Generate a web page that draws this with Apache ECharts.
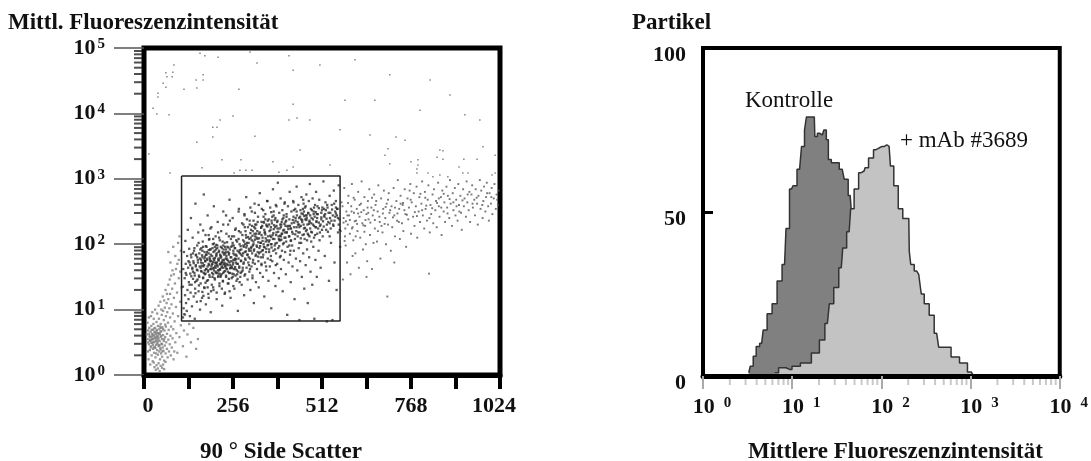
<!DOCTYPE html>
<html>
<head>
<meta charset="utf-8">
<script src="https://cdn.jsdelivr.net/npm/echarts@6/dist/echarts.min.js"></script>
<style>html,body{margin:0;background:#fff}#main{width:1091px;height:461px}</style>
</head>
<body>
<div id="main"></div>
<script>
// scatter points: [side scatter channel, log10 of fluorescence]
var sparsePoints = [[161,4.92],[175,4.88],[213,4.86],[305,4.94],[325,4.77],[417,4.88],[429,4.66],[86,4.74],[83,4.63],[63,4.62],[81,4.56],[66,4.56],[55,4.46],[63,4.40],[40,4.31],[40,4.25],[26,4.08],[37,3.99],[72,3.98],[115,4.37],[152,4.39],[150,4.51],[170,4.59],[170,4.51],[273,4.37],[256,3.96],[429,4.14],[440,3.93],[417,3.90],[219,3.90],[198,3.79],[210,3.79],[198,3.64],[152,3.56],[319,3.65],[14,3.38],[224,3.29],[279,3.29],[167,3.17],[75,3.09],[259,3.09],[276,3.13],[293,3.13],[311,3.13],[371,3.26],[388,3.10],[411,3.13],[429,3.18],[506,4.74],[578,4.20],[564,3.75],[650,3.67],[607,4.82],[707,4.59],[794,4.05],[880,4.28],[966,3.90],[751,3.59],[535,3.21],[449,3.44],[851,3.44],[923,3.98],[823,4.51],[477,3.90],[664,4.20],[725,3.64],[702,3.46],[693,3.36],[707,3.23],[860,3.43],[860,3.30],[843,3.33],[975,3.49],[1010,3.36],[958,3.30],[920,3.30],[906,3.18],[788,3.29],[768,3.26],[788,3.21],[785,3.15],[785,3.09],[817,3.09],[831,3.03],[851,3.06],[874,3.03],[917,3.09],[932,3.09],[1001,3.06],[1010,3.09]];

var lowCluster = [[8,.62],[10,.55],[12,.68],[14,.47],[15,.72],[16,.60],[17,.38],[18,.52],[19,.66],[20,.44],[21,.75],[22,.58],[22,.30],[23,.63],[24,.49],[25,.69],[26,.40],[26,.55],[27,.78],[28,.61],[29,.34],[30,.50],[30,.66],[31,.43],[32,.72],[33,.57],[33,.27],[34,.63],[35,.46],[36,.81],[36,.54],[37,.69],[38,.38],[38,.60],[39,.50],[40,.75],[40,.31],[41,.64],[42,.44],[42,.56],[43,.86],[44,.70],[44,.36],[45,.52],[46,.62],[46,.24],[47,.41],[48,.78],[48,.58],[49,.33],[50,.48],[50,.67],[51,.92],[52,.55],[52,.28],[53,.73],[54,.42],[55,.61],[55,.98],[56,.37],[57,.84],[57,.52],[58,.22],[59,.68],[60,.45],[60,1.03],[61,.58],[62,.33],[63,.90],[63,.74],[64,.50],[65,1.10],[66,.40],[66,.63],[67,.96],[68,.27],[69,.80],[70,.54],[70,1.16],[71,.69],[72,.36],[73,1.02],[74,.47],[75,.88],[75,1.24],[76,.60],[77,.30],[78,.74],[79,1.08],[80,.42],[81,1.32],[82,.56],[83,.94],[84,.70],[85,.24],[86,1.18],[87,.36],[88,.82],[89,1.40],[90,.50],[92,1.04],[93,.64],[95,1.26],[96,.34],[98,.90],[100,1.48],[102,.58],[104,1.12],[106,.76],[108,1.34],[112,.44],[115,.68],[118,.92],[122,.28],[125,.62],[130,.78],[135,.50],[142,.72],[150,.40],[155,.55],[30,.12],[34,.08],[36,.15],[40,.10],[42,.18],[45,.06],[48,.14],[52,.11],[55,.16],[28,.19],[25,.21],[58,.09],[62,.20],[11,.36],[13,.24],[18,.16],[10,.80],[14,.88],[20,.90],[24,.96],[28,.86],[32,1.00],[38,.94],[42,1.06],[47,1.12],[50,1.00],[54,1.20],[58,1.14],[62,1.30],[66,1.24],[70,1.38],[74,1.46],[78,1.52],[82,1.60],[86,1.54],[92,1.62],[96,1.70],[100,1.76],[104,1.58],[90,1.82],[76,1.72],[106,1.90],[98,2.02],[84,1.96],[102,2.12],[70,1.88],
[37,.57],[21,.49],[44,.63],[29,.71],[17,.58],[52,.47],[33,.41],[25,.62],[41,.53],[12,.50],[36,.67],[48,.39],[23,.55],[31,.59],[46,.74],[19,.42],[39,.64],[27,.51],[55,.70],[14,.63],[43,.46],[35,.33],[50,.60],[22,.69],[30,.56],[58,.55],[26,.46],[47,.66],[34,.52],[16,.54],[61,.77],[40,.59],[28,.42],[53,.36],[24,.60],[45,.45],[32,.65],[20,.53],[38,.48],[49,.72]];

// densest part of the cloud inside the gate
var coreCloud = [
[143,1.71],[227,1.43],[181,1.88],[262,1.65],[158,1.37],[204,1.79],[239,2.03],[172,1.56],[218,1.69],[276,1.91],[149,1.83],[193,1.28],[251,1.74],[211,1.94],[166,1.67],[233,1.59],[187,2.07],[269,1.47],[222,1.81],[136,1.51],
[198,1.63],[245,1.86],[176,1.74],[214,1.52],[258,1.98],[152,1.61],[207,1.71],[281,1.58],[229,1.92],[184,1.45],[241,1.68],[168,1.90],[201,2.01],[265,1.77],[219,1.61],[147,1.42],[190,1.77],[254,1.55],[235,1.78],[174,1.33],
[209,1.86],[272,2.08],[196,1.56],[225,1.73],[161,1.78],[248,1.63],[183,1.66],[216,2.10],[260,1.84],[139,1.64],[203,1.48],[238,1.70],[178,1.97],[223,1.54],[267,1.60],[155,1.72],[212,1.66],[192,1.84],[243,1.95],[170,1.49],
[231,1.84],[206,1.58],[279,1.75],[186,1.70],[256,1.69],[221,1.96],[164,1.59],[200,1.88],[236,1.50],[273,1.88],[179,1.62],[215,1.75],[249,1.80],[145,1.94],[194,1.66],[228,1.64],[263,1.52],[208,1.99],[175,1.81],[241,1.58],
[188,1.53],[220,1.79],[253,2.12],[199,1.73],[234,1.67],[159,1.50],[270,1.70],[213,1.60],[182,1.76],[246,1.72],[226,1.88],[205,1.67],[167,1.83],[258,1.62],[191,1.92],[237,1.82],[217,1.55],[278,1.97],[173,1.68],[230,1.76],
[202,1.76],[244,1.47],[185,1.60],[224,1.66],[266,1.82],[153,1.80],[210,1.72],[197,1.50],[252,1.66],[232,1.70],[177,1.55],[219,1.84],[261,1.94],[141,1.58],[206,1.64],[240,1.76],[189,1.80],[274,1.64],[228,1.56],[169,1.71],
[214,1.78],[195,1.69],[247,1.56],[223,1.72],[257,1.76],[180,1.84],[236,1.63],[208,1.82],[163,1.64],[268,1.54],[218,1.62],[201,1.60],[242,1.88],[186,1.91],[229,1.69],[255,1.50],[211,1.56],[174,1.78],[264,1.72],[234,1.86],
[296,2.02],[348,2.18],[322,1.84],[404,2.31],[287,1.72],[365,2.26],[331,2.09],[389,1.97],[308,2.22],[352,1.93],[418,2.12],[293,1.89],[376,2.37],[340,2.28],[313,1.98],[397,2.16],[283,2.14],[359,2.04],[327,2.34],[410,2.42],
[301,1.80],[384,2.24],[344,2.00],[318,2.16],[371,2.08],[290,2.26],[402,2.02],[335,1.88],[356,2.36],[310,2.06],[392,2.30],[426,2.19],[299,2.11],[367,1.95],[325,1.96],[413,2.27],[346,2.22],[285,1.86],[380,2.14],[316,1.90],
[398,2.38],[338,2.14],[361,2.20],[304,2.30],[422,2.05],[329,2.03],[374,2.29],[294,1.95],[407,2.10],[350,2.09],[320,2.24],[386,2.19],[288,2.04],[342,1.91],[369,2.42],[312,2.13],[395,2.07],[432,2.33],[333,2.18],[357,1.99],
[302,1.93],[378,2.01],[324,2.10],[415,2.23],[345,2.33],[292,2.20],[363,2.13],[400,2.21],[315,2.00],[337,2.25],[383,2.34],[306,2.17],[354,2.06],[428,2.37],[328,1.81],[372,2.17],[298,1.84],[391,2.13],[341,2.05],[409,2.36],
[286,1.98],[360,2.30],[319,2.07],[377,1.92],[349,2.15],[311,2.28],[420,2.28],[334,1.97],[394,2.26],[303,2.08],[366,2.11],[326,2.20],[388,2.08],[347,1.95],[291,1.78],[405,2.18],[373,2.23],[317,2.26],[355,2.27],[435,2.15],
[442,2.34],[498,2.40],[468,2.22],[531,2.48],[451,2.09],[517,2.27],[483,2.52],[548,2.36],[461,2.43],[506,2.18],[439,2.50],[525,2.39],[474,2.31],[556,2.54],[492,2.14],[447,2.26],[513,2.56],[537,2.24],[465,2.58],[486,2.38],
[455,2.37],[503,2.33],[543,2.44],[471,2.16],[521,2.46],[444,2.18],[494,2.49],[560,2.30],[459,2.30],[510,2.41],[478,2.44],[534,2.32],[449,2.42],[501,2.24],[552,2.47],[467,2.37],[489,2.28],[527,2.60],[457,2.54],[515,2.35],
[481,2.19],[541,2.53],[463,2.25],[496,2.35],[529,2.19],[453,2.47],[508,2.30],[473,2.47],[558,2.40],[446,2.30],[519,2.42],[488,2.46],[545,2.28],[469,2.06],[503,2.55],[535,2.40],[460,2.15],[512,2.22],[476,2.34],[550,2.50],
[148,1.25],[171,1.21],[199,1.34],[224,1.32],[186,1.18],[243,1.40],[209,1.26],[163,1.13],[257,1.36],[232,1.24],[177,1.41],[289,1.52],[305,1.62],[338,1.70],[364,1.76],[312,1.48],[351,1.66],[393,1.82],[421,1.90],[379,1.68],
[262,2.22],[228,2.30],[191,2.24],[247,2.36],[289,2.46],[213,2.18],[170,2.21],[306,2.56],[272,2.50],[330,2.60],[355,2.66],[236,2.44],[381,2.58],[319,2.48],[404,2.62],[296,2.38],[343,2.52],[430,2.64],[366,2.49],[458,2.68],
[154,1.46],[183,1.34],[128,1.74],[217,1.40],[246,1.28],[275,1.42],[168,1.27],[197,1.94],[131,1.38],[226,2.04],[255,2.02],[284,1.64],[313,1.72],[342,1.80],[157,2.02],[186,2.14],[215,1.88],[244,2.12],[273,2.20],[302,1.68],
[331,1.86],[360,1.88],[389,2.06],[418,1.98],[447,2.02],[476,2.12],[505,2.06],[534,2.12],[563,2.22],[141,1.86],[170,1.96],[199,2.08],[228,1.98],[257,1.90],[286,2.30],[315,2.36],[344,2.42],[373,2.50],[402,2.44],[431,2.52],
[460,2.50],[489,2.56],[518,2.54],[547,2.62],[133,1.68],[162,1.92],[191,1.62],[220,1.50],[249,1.64],[278,1.56],[307,1.90],[336,2.02],[365,2.00],[394,2.12],[423,2.24],[452,2.38],[481,2.32],[510,2.48],[539,2.36],[120,1.56],
[149,1.66],[178,1.84],[207,1.92],[236,1.92],[265,2.06],[294,2.10],[323,2.16],[352,2.30],[381,2.28],[410,2.18],[439,2.26],[468,2.40],[497,2.46],[526,2.30],[555,2.44],[146,1.52],[175,1.60],[204,1.96],[233,1.96],[262,1.78],
[291,2.00],[320,2.30],[349,2.38],[378,2.40],[407,2.28],[436,2.40],[465,2.44],[494,2.26],[523,2.52],[552,2.56],[135,1.84],[164,1.76],[193,1.74],[222,1.70],[251,1.96],[280,1.84],[309,1.96],[338,2.34],[367,2.36],[396,2.34]];

var mainCloud = [
[112,.88],[112,1.35],[113,1.62],[114,1.02],[115,1.88],[116,.93],[117,1.48],[118,1.22],[119,2.05],[120,1.70],[121,1.10],[122,1.53],[123,.98],[124,1.82],[125,1.30],[126,2.22],[127,1.64],[128,1.16],[129,1.42],[130,1.93],[131,1.72],[132,.90],[133,1.55],[134,1.26],[135,2.40],[136,1.80],[137,1.38],[138,1.05],[139,1.62],[140,2.10],[141,1.47],[142,1.74],[143,1.20],[144,1.90],[145,1.56],[146,.86],[147,1.32],[148,2.62],[149,1.68],[150,1.84],[151,1.44],[152,1.12],[153,1.98],[154,1.60],[155,1.76],[156,2.18],[157,1.28],[158,1.52],[159,1.86],[160,1.66],[161,1.00],[162,2.30],[163,1.40],[164,1.72],[165,1.94],[166,1.58],[167,1.18],[168,1.80],[169,2.04],[170,1.48],[171,1.66],[172,2.76],[173,1.34],[174,1.88],[175,1.54],[176,1.74],[177,2.14],[178,1.08],[179,1.62],[180,1.96],[181,1.44],[182,1.78],[183,2.44],[184,1.58],[185,1.24],[186,1.86],[187,1.68],[188,2.08],[189,1.50],[190,1.74],[191,1.92],[192,.96],[193,1.62],[194,2.26],[195,1.38],[196,1.82],[197,1.70],[198,2.00],[199,1.54],[200,1.78],[200,1.30],[201,2.58],[202,1.64],[203,1.90],[204,1.46],[205,1.72],[206,2.12],[207,1.56],[208,1.84],[209,1.16],[210,1.68],[211,1.98],[212,2.34],[213,1.50],[214,1.76],[215,1.60],[216,1.90],[217,1.36],[218,2.06],[219,1.70],[220,1.82],[221,1.52],[222,2.20],[223,1.64],[224,1.94],[225,1.06],[226,1.76],[227,1.44],[228,2.50],[229,1.86],[230,1.58],[231,1.72],[232,2.02],[233,1.26],[234,1.66],[235,1.88],[236,1.52],[237,2.16],[238,1.78],[239,1.62],[240,1.96],[241,1.40],[242,2.30],[243,1.74],[244,1.84],[245,1.56],[246,2.68],[247,1.92],[248,1.68],[249,1.18],[250,2.08],[251,1.80],[252,1.48],[253,1.64],[254,1.98],[255,2.40],[256,1.72],[257,1.86],[258,1.54],[259,2.12],[260,1.32],[261,1.76],[262,1.94],[263,1.62],[264,2.24],[265,1.84],[266,1.44],[267,1.70],[268,2.04],[269,1.90],[270,.98],[271,1.58],[272,1.78],[273,2.54],[274,1.66],[275,2.00],[276,1.86],[277,1.50],[278,2.18],[279,1.74],[280,1.92],[281,1.38],[282,2.32],[283,1.82],[284,1.60],[285,2.06],[286,1.70],[287,1.96],[288,1.22],[289,2.44],[290,1.88],[291,1.54],[292,1.76],[293,2.14],[294,2.72],[295,1.64],[296,1.98],[297,1.84],[298,1.46],[299,2.26],[300,1.72],[301,2.02],[302,1.90],[303,1.58],[304,2.36],[305,1.78],[306,1.30],[307,2.10],[308,1.94],[309,1.66],[310,2.50],[311,1.86],[312,1.52],[313,2.20],[314,1.76],[315,2.04],[316,1.10],[317,1.92],[318,2.62],[319,1.70],[320,2.12],[321,1.82],[322,1.42],[323,2.30],[324,1.98],[325,1.62],[326,2.08],[327,1.88],[328,2.42],[329,1.74],[330,1.34],[331,2.16],[332,1.94],[333,2.78],[334,1.56],[335,2.02],[336,1.80],[337,2.26],[338,1.68],[339,2.54],[340,1.90],[341,2.10],[342,1.50],[343,1.84],[344,2.34],[345,1.96],[346,1.20],[347,2.18],[348,1.72],[349,2.46],[350,2.04],[351,1.88],[352,1.60],[353,2.28],[354,2.66],[355,1.98],[356,1.78],[357,2.12],[358,1.44],[359,2.38],[360,1.92],[361,2.06],[362,1.66],[363,2.56],[364,2.22],[365,1.82],[366,1.02],[367,2.00],[368,2.32],[369,1.74],[370,2.14],[371,2.84],[372,1.90],[373,2.44],[374,1.56],[375,2.08],[376,1.98],[377,2.26],[378,1.36],[379,2.60],[380,1.86],[381,2.18],[382,2.02],[383,1.70],[384,2.36],[385,2.94],[386,1.94],[387,2.12],[388,1.48],[389,2.48],[390,2.24],[391,1.80],[392,2.06],[393,2.70],[394,1.62],[395,2.30],[396,2.16],[397,1.90],[398,2.52],[399,1.28],[400,2.00],[401,2.40],[402,1.76],[403,2.22],[404,2.10],[405,2.64],[406,1.88],[407,2.34],[408,1.54],[409,2.04],[410,2.46],[411,2.18],[412,.92],[413,1.96],[414,2.58],[415,2.28],[416,1.72],[417,2.12],[418,2.38],[419,2.80],[420,1.84],[421,2.24],[422,1.42],[423,2.06],[424,2.50],[425,2.32],[426,1.98],[427,1.66],[428,2.16],[429,2.66],[430,2.42],[431,1.90],[432,2.26],[433,1.16],[434,2.08],[435,2.54],[436,2.36],[437,1.78],[438,2.20],[439,2.88],[440,2.44],[441,1.60],[442,2.12],[443,2.30],[444,2.60],[445,1.94],[446,2.40],[447,.84],[448,2.18],[449,1.74],[450,2.52],[451,2.28],[452,2.02],[453,2.72],[454,1.50],[455,2.34],[456,2.14],[457,2.46],[458,1.86],[459,2.62],[460,2.24],[461,1.32],[462,2.08],[463,2.56],[464,2.38],[465,1.68],[466,2.20],[467,2.76],[468,2.44],[469,1.92],[470,2.30],[471,1.10],[472,2.48],[473,2.14],[474,2.66],[475,1.80],[476,2.36],[477,2.92],[478,2.24],[479,1.58],[480,2.54],[481,2.04],[482,2.40],[483,2.18],[484,1.38],[485,2.70],[486,2.30],[487,1.96],[488,2.50],[489,2.10],[490,.86],[491,2.42],[492,2.60],[493,1.76],[494,2.26],[495,2.80],[496,2.34],[497,1.50],[498,2.16],[499,2.58],[500,2.46],[502,1.90],[504,2.68],[506,2.28],[508,1.64],[510,2.38],[512,2.52],[514,2.12],[516,2.96],[518,2.44],[520,1.82],[522,2.64],[524,2.22],[526,.82],[528,2.56],[530,2.34],[532,1.44],[534,2.74],[536,2.48],[538,2.02],[540,2.60],[542,.84],[544,2.30],[546,2.82],[548,1.72],[550,2.42],[552,2.66],[554,1.30],[556,2.54],[558,2.18],[560,2.90],[562,2.38],[564,1.96]];

var tailPoints = [[566,2.20],[568,2.64],[572,1.46],[574,2.40],[576,2.86],[578,2.12],[580,1.98],[582,2.50],[584,1.72],[586,2.30],[588,2.74],[590,2.44],[592,2.16],[594,1.54],[596,2.58],[598,2.92],[600,2.26],[602,2.06],[604,2.48],[606,2.68],[608,1.86],[610,2.36],[612,2.54],[614,2.20],[616,2.80],[618,1.64],[620,2.42],[622,2.10],[624,2.62],[626,2.96],[628,2.32],[630,1.92],[632,2.52],[634,2.72],[636,2.28],[638,2.00],[640,2.46],[642,1.74],[644,2.66],[646,2.38],[648,2.84],[650,2.14],[654,2.56],[656,1.62],[658,2.44],[662,2.76],[664,2.24],[666,2.60],[670,2.04],[672,2.50],[674,2.90],[678,2.34],[680,1.78],[682,2.70],[686,2.18],[688,2.54],[690,2.82],[694,2.40],[696,2.00],[698,2.62],[702,2.30],[704,2.78],[706,2.48],[710,1.90],[712,2.58],[714,2.26],[718,2.86],[720,2.44],[722,2.12],[726,2.66],[728,2.36],[730,2.98],[734,2.54],[736,2.08],[738,2.74],[742,2.32],[744,2.60],[746,2.20],[750,2.84],[752,2.46],[754,1.96],[758,2.70],[760,2.38],[762,2.56],[766,2.92],[768,2.16],[770,2.64],[774,2.42],[776,2.78],[778,2.28],[782,2.58],[784,2.88],[786,2.10],[790,2.50],[792,2.72],[794,2.34],[798,2.62],[800,2.96],[802,2.44],[806,2.24],[808,2.80],[810,2.54],[814,2.36],[816,2.68],[818,2.90],[822,2.18],[824,2.60],[826,2.46],[830,2.76],[832,2.32],[834,2.84],[838,2.52],[840,2.66],[842,2.26],[846,2.94],[848,2.58],[850,2.42],[854,2.72],[856,2.14],[858,2.82],[862,2.50],[864,2.64],[866,2.34],[870,2.88],[872,2.56],[874,2.74],[878,2.40],[880,2.98],[882,2.62],[886,2.28],[888,2.78],[890,2.52],[894,2.86],[896,2.44],[898,2.68],[902,2.36],[904,2.92],[906,2.60],[910,2.74],[912,2.48],[914,2.22],[918,2.84],[920,2.58],[922,2.70],[926,2.42],[928,2.96],[930,2.64],[934,2.52],[936,2.80],[938,2.34],[942,2.76],[944,2.90],[946,2.56],[950,2.68],[952,2.44],[954,2.84],[958,2.62],[960,2.30],[962,2.74],[966,2.98],[968,2.54],[970,2.82],[974,2.40],[976,2.66],[978,2.88],[982,2.50],[984,2.72],[986,2.94],[990,2.58],[992,2.36],[994,2.78],[998,2.62],[1000,2.86],[1002,2.46],[1006,2.70],[1008,2.92],[1012,2.54],[1014,2.76],[1018,2.60],[1020,2.82],[820,1.55],[700,1.20],[640,1.50],[600,1.82],[660,2.02],[720,1.72],
[613,2.31],[687,2.47],[571,2.58],[745,2.63],[634,2.19],[809,2.71],[592,2.37],[668,2.66],[873,2.47],[716,2.41],[603,2.71],[651,2.33],[779,2.49],[579,2.24],[931,2.76],[695,2.57],[625,2.49],[843,2.63],[756,2.45],[585,2.44],[677,2.42],[899,2.58],[643,2.56],[795,2.77],[609,2.12],[733,2.34],[957,2.71],[661,2.52],[574,2.33],[821,2.40],[702,2.68],[620,2.60],[767,2.68],[879,2.69],[637,2.37],[999,2.72],[683,2.28],[597,2.50],[749,2.52],[855,2.56],[656,2.71],[916,2.67],[606,2.35],[729,2.47],[812,2.59],[673,2.20],[587,2.63],[785,2.43],[973,2.60],[645,2.48],
[1016,2.68],[862,2.77],[708,2.52],[631,2.29],[890,2.64],[764,2.82],[577,2.05],[829,2.55],[692,2.31],[945,2.62],[616,2.47],[738,2.62],[664,2.37],[987,2.78],[800,2.52],[581,2.35],[848,2.70],[722,2.56],[598,2.24],[907,2.50]];

// gate box: channel from/to, fluorescence from/to
var gateX = [108,564];
var gateY = [6.7,1100];

// histograms: fluorescence, percent
var controlX = [3.26,3.52,3.80,4.10,4.55,4.91,5.58,6.35,7.22,8.21,8.86,9.83,10.6,12.1,13.4,14.1,14.8,17.7,18.2,20.2,21.8,23.5,24.8,26.1,28.9,31.2,36.4,40.3,44.7,47,53.5,64,76.6,94,122,157,231];
var controlY = [1,3,6,9,10,14,19,22,29,34,45,57,58,63,70,75,79,79,73,74,73.5,75,72,66,65,65,63,60,55,51,44,33,24,15,8,4,1];
var mabX = [6.35,7.8,9.33,10.6,14.4,18.7,21.8,24.8,27.4,31.2,35.5,38.3,43.5,47,52.1,59.3,64,67.3,76.6,87,94,102,115,122,131,145,165,183,203,208,219,249,276,284,322,367,417,462,538,679,833,1023,1134];
var mabY = [1,2.5,2,3,4,7,11,16,22,27,33,39,44,51,57,62,62.5,63.5,66.5,69,69.5,70,70.5,70,64,58,51,48,48,38,34,32,31,25,22,18.5,13,8.8,8.8,5.8,4,1.2,0];

var scatterMinor = [2,3,4,5,6,7,8,9,20,30,40,50,60,70,80,90,200,300,400,500,600,700,800,900,2000,3000,4000,5000,6000,7000,8000,9000,20000,30000,40000,50000,60000,70000,80000,90000];
var histMinor = [2,3,4,5,6,7,8,9,20,30,40,50,60,70,80,90,200,300,400,500,600,700,800,900,2000,3000,4000,5000,6000,7000,8000,9000];
var xLabelsLeft = [0,256,512,768,1024];
var titles = ['Mittl. Fluoreszenzintensität','Partikel','90 ° Side Scatter','Mittlere Fluoreszenzintensität'];

var serif = '"Liberation Serif","Times New Roman",serif';
var chart = echarts.init(document.getElementById('main'));

function toXY(list){
    return list.map(function(p){ return [p[0], Math.pow(10,p[1])]; });
}
function pairs(xs,ys){
    return xs.map(function(x,i){ return [x,ys[i]]; });
}
function dots(data,color,size){
    return {type:'scatter',xAxisIndex:0,yAxisIndex:0,data:toXY(data),symbol:'rect',symbolSize:size,
        itemStyle:{color:color},silent:true,z:2};
}
function exp(v){ return Math.round(Math.log(v)/Math.LN10); }
function heading(text,left,top){
    return {text:text,left:left,top:top,padding:0,textStyle:{fontFamily:serif,fontWeight:'bold',fontSize:23,color:'#111'}};
}

var labelFont = {fontFamily:serif,fontWeight:'bold',fontSize:22,color:'#111'};
var supFont = {fontFamily:serif,fontWeight:'bold',fontSize:15,color:'#111',verticalAlign:'top',padding:[0,0,8,2]};

var option = {
    animation:false,
    backgroundColor:'#fff',
    title:[
        heading(titles[0],8,12),
        heading(titles[1],632,12),
        heading(titles[2],200,441),
        heading(titles[3],748,441)
    ],
    grid:[
        {left:144,top:48,width:356,height:327,show:true,borderColor:'#000',borderWidth:5,backgroundColor:'transparent'},
        {left:703,top:48,width:359,height:328,show:true,borderColor:'#000',borderWidth:4,backgroundColor:'transparent'}
    ],
    xAxis:[
        {gridIndex:0,type:'value',min:0,max:1024,interval:128,z:5,
            axisLine:{show:true,lineStyle:{color:'#000',width:5}},
            axisTick:{show:true,length:14,lineStyle:{color:'#000',width:4}},
            splitLine:{show:false},
            axisLabel:{margin:20,showMinLabel:true,showMaxLabel:true,hideOverlap:false,
                formatter:function(v){
                    if(xLabelsLeft.indexOf(v)<0) return '';
                    if(v==0) return '{z|0}';
                    if(v==1024) return '{m|1024}';
                    return '{n|'+v+'}';
                },
                rich:{n:labelFont,
                    z:Object.assign({padding:[0,0,0,8]},labelFont),
                    m:Object.assign({padding:[0,12,0,0]},labelFont)}}},
        {gridIndex:1,type:'log',logBase:10,min:1,max:10000,z:5,
            axisLine:{show:true,lineStyle:{color:'#000',width:5}},
            axisTick:{show:true,length:13,lineStyle:{color:'#aaa',width:2}},
            minorTick:{show:false},splitLine:{show:false},
            axisLabel:{margin:20,showMinLabel:true,showMaxLabel:true,
                formatter:function(v){ return '{b|10}{s|'+exp(v)+'}'; },
                rich:{b:Object.assign({padding:[0,0,0,18]},labelFont),s:Object.assign({},supFont,{padding:[0,0,8,9]})}}}
    ],
    yAxis:[
        {gridIndex:0,type:'log',logBase:10,min:1,max:100000,z:5,
            axisLine:{show:false},
            axisTick:{show:true,length:30,lineStyle:{color:'#555',width:1.5}},
            minorTick:{show:false},splitLine:{show:false},
            axisLabel:{margin:39,showMinLabel:true,showMaxLabel:true,
                formatter:function(v){ return '{b|10}{s|'+exp(v)+'}'; },
                rich:{b:labelFont,s:supFont}}},
        {gridIndex:1,type:'value',min:0,max:100,interval:50,z:5,
            axisLine:{show:false},
            axisTick:{show:true,inside:true,length:10,lineStyle:{color:'#000',width:3}},
            splitLine:{show:false},
            axisLabel:{margin:17,formatter:'{b|{value}}',rich:{b:Object.assign({padding:[14,0,0,0]},labelFont)}}}
    ],
    series:[
        dots(sparsePoints,'#666',1.5),
        dots(lowCluster,'#808080',2.3),
        dots(tailPoints,'#555',1.9),
        dots(mainCloud,'#333',2.3),
        dots(coreCloud,'#2a2a2a',2.3),
        {type:'line',xAxisIndex:0,yAxisIndex:0,symbol:'none',silent:true,z:3,
            data:[[gateX[0],gateY[1]],[gateX[1],gateY[1]],[gateX[1],gateY[0]],[gateX[0],gateY[0]],[gateX[0],gateY[1]]],
            lineStyle:{color:'#222',width:1.5}},
        {type:'scatter',xAxisIndex:0,yAxisIndex:0,silent:true,clip:false,symbol:'rect',symbolSize:[8,2],symbolOffset:[-6,0],
            data:scatterMinor.map(function(v){ return [0,v]; }),itemStyle:{color:'#222'},z:1},
        {type:'line',xAxisIndex:1,yAxisIndex:1,symbol:'none',step:'middle',silent:true,z:2,
            data:pairs(controlX,controlY),
            lineStyle:{color:'#333',width:1.5},areaStyle:{color:'#808080',opacity:1}},
        {type:'line',xAxisIndex:1,yAxisIndex:1,symbol:'none',step:'middle',silent:true,z:3,
            data:pairs(mabX,mabY),
            lineStyle:{color:'#333',width:1.5},areaStyle:{color:'#c3c3c3',opacity:1}},
        {type:'scatter',xAxisIndex:1,yAxisIndex:1,silent:true,clip:false,symbol:'rect',symbolSize:[2,6],symbolOffset:[0,6],
            data:histMinor.map(function(v){ return [v,0]; }),itemStyle:{color:'#bbb'},z:1}
    ],
    graphic:[
        {type:'text',left:745,top:89,style:{text:'Kontrolle',font:'23px '+serif,fill:'#111'}},
        {type:'text',left:900,top:129,style:{text:'+ mAb #3689',font:'23px '+serif,fill:'#111'}}
    ]
};
chart.setOption(option);
</script>
</body>
</html>
